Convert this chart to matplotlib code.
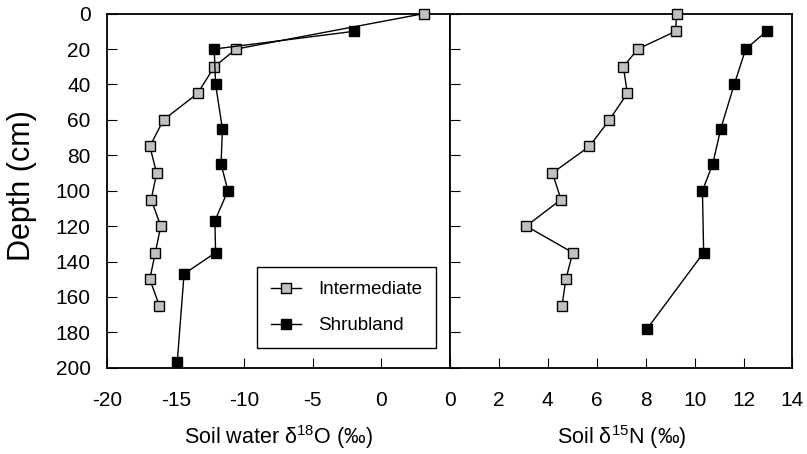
"""Soil water d18O and soil d15N depth profiles."""
import matplotlib
matplotlib.use('Agg')
import matplotlib.pyplot as plt

plt.rcParams['font.family'] = ['Liberation Sans', 'DejaVu Sans']
plt.rcParams['mathtext.fontset'] = 'custom'
plt.rcParams['mathtext.rm'] = 'Liberation Sans'
plt.rcParams['mathtext.it'] = 'Liberation Sans:italic'
plt.rcParams['axes.unicode_minus'] = False

# soil water d18O (left panel)
o18_int_depth = [0, 20, 30, 45, 60, 75, 90, 105, 120, 135, 150, 165]
o18_int = [3.1, -10.6, -12.2, -13.4, -15.9, -16.9, -16.4, -16.8, -16.1,
           -16.5, -16.9, -16.2]
o18_shr_depth = [10, 20, 40, 65, 85, 100, 117, 135, 147, 197]
o18_shr = [-2.0, -12.2, -12.1, -11.6, -11.7, -11.2, -12.15, -12.1, -14.4,
           -14.9]

# soil d15N (right panel)
n15_int_depth = [0, 10, 20, 30, 45, 60, 75, 90, 105, 120, 135, 150, 165]
n15_int = [9.27, 9.22, 7.68, 7.09, 7.25, 6.52, 5.70, 4.19, 4.54, 3.12,
           5.02, 4.74, 4.58]
n15_shr_depth = [10, 20, 40, 65, 85, 100, 135, 178]
n15_shr = [12.94, 12.09, 11.62, 11.07, 10.74, 10.32, 10.37, 8.06]

o18_ticks = [-20, -15, -10, -5, 0]
n15_ticks = [0, 2, 4, 6, 8, 10, 12, 14]
depth_ticks = [0, 20, 40, 60, 80, 100, 120, 140, 160, 180, 200]

int_style = dict(color='black', lw=1.0, marker='s', markersize=6.5,
                 markerfacecolor='#c0c0c0', markeredgecolor='black',
                 markeredgewidth=1.0)
shr_style = dict(color='black', lw=1.0, marker='s', markersize=7,
                 markerfacecolor='black', markeredgecolor='black')

fig, (ax1, ax2) = plt.subplots(1, 2, sharey=True, figsize=(8.07, 4.54),
                               dpi=100)
fig.subplots_adjust(left=0.133, right=0.982, top=0.970, bottom=0.190,
                    wspace=0)

ax1.plot(o18_int, o18_int_depth, label='Intermediate', clip_on=False,
         zorder=3, **int_style)
ax1.plot(o18_shr, o18_shr_depth, label='Shrubland', clip_on=False,
         zorder=3, **shr_style)
ax2.plot(n15_int, n15_int_depth, clip_on=False, zorder=3, **int_style)
ax2.plot(n15_shr, n15_shr_depth, clip_on=False, zorder=3, **shr_style)

ax1.set_xlim(-20, 5)
ax1.set_xticks(o18_ticks)
ax2.set_xlim(0, 14)
ax2.set_xticks(n15_ticks)
ax1.set_ylim(200, 0)
ax1.set_yticks(depth_ticks)

for ax in (ax1, ax2):
    for s in ax.spines.values():
        s.set_linewidth(1.3)
    ax.tick_params(direction='in', length=7, width=0.8, labelsize=15,
                   top=False, right=False)
    ax.tick_params(axis='x', pad=17)
    ax.tick_params(axis='y', pad=12)
ax2.tick_params(axis='y', labelleft=False)

ax1.set_xlabel('Soil water δ$^{18}$O (‰)', fontsize=15.5, labelpad=9)
ax2.set_xlabel('Soil δ$^{15}$N (‰)', fontsize=15.5, labelpad=9)
ax1.set_ylabel('Depth (cm)', fontsize=22)
ax1.yaxis.set_label_coords(-0.205, 0.515)

leg = ax1.legend(loc='lower right', bbox_to_anchor=(0.959, 0.055),
                 borderaxespad=0, fontsize=13.5, fancybox=False,
                 edgecolor='black', handlelength=1.6, handletextpad=0.9,
                 labelspacing=1.0, borderpad=0.75, framealpha=1)
leg.get_frame().set_linewidth(1.0)

plt.savefig('out.png', dpi=100)
